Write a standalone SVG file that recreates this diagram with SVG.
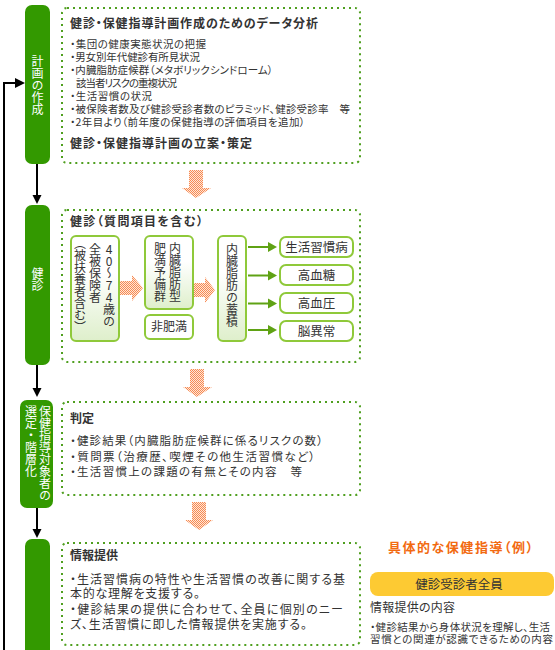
<svg xmlns="http://www.w3.org/2000/svg" width="555" height="650" viewBox="0 0 555 650">
<defs>
<style>
text { font-family: "Noto Sans CJK JP", "Noto Sans", sans-serif; fill: #333; }
.p { font-feature-settings: "palt"; }
.t { font-size: 12px; font-weight: bold; font-feature-settings: "palt"; }
.b1 { font-size: 10.5px; font-feature-settings: "palt"; }
.b3 { font-size: 11.5px; font-feature-settings: "palt"; }
.b4 { font-size: 12px; font-feature-settings: "palt"; }
.bar { fill: #339900; }
.bt { fill: #fff; font-size: 12px; writing-mode: vertical-rl; text-orientation: upright; }
.dot { fill: #fff; stroke: #4f9f1f; stroke-width: 2; stroke-dasharray: 2 4; }
.ib { stroke: #8fc93a; stroke-width: 2; }
.vt { font-size: 12px; writing-mode: vertical-rl; text-orientation: upright; }
.half { font-feature-settings: "vhal"; }
.ctr { text-anchor: middle; }
.blk { stroke: #000; stroke-width: 2; fill: none; }
.ah { fill: #000; }
.ga { stroke: #5fa214; stroke-width: 2; }
.gah { fill: #5fa214; }
.oa { fill: url(#chk); }
</style>
<pattern id="chk" width="2" height="2" patternUnits="userSpaceOnUse">
<rect width="2" height="2" fill="#fee6d8"/>
<rect width="1" height="1" fill="#f78a52"/>
<rect x="1" y="1" width="1" height="1" fill="#f78a52"/>
</pattern>
<linearGradient id="gg" x1="0" y1="0" x2="0" y2="1">
<stop offset="0.35" stop-color="#ffffff"/>
<stop offset="1" stop-color="#deefcb"/>
</linearGradient>
</defs>

<rect width="555" height="650" fill="#fff"/>

<!-- connectors -->
<g id="connectors">
<path class="blk" d="M37 164 V196"/>
<polygon class="ah" points="32.5,195 41.5,195 37,204"/>
<path class="blk" d="M37 365 V389"/>
<polygon class="ah" points="32.5,388 41.5,388 37,397"/>
<path class="blk" d="M37 508 V530"/>
<polygon class="ah" points="32.5,529 41.5,529 37,538"/>
<path class="blk" d="M4 650 V83 H16"/>
<polygon class="ah" points="15,78 15,88 25,83"/>
<polygon class="oa" points="189,170 203,170 203,188 211,188 196,198 182,188 189,188"/>
<polygon class="oa" points="190,369 204,369 204,387 212,387 197,397 183,387 190,387"/>
<polygon class="oa" points="192,502 206,502 206,520 213,520 199,530 185,520 192,520"/>
</g>

<!-- left bars -->
<g id="bar-plan">
<rect class="bar" x="25" y="5" width="25" height="159" rx="7"/>
<text class="bt" x="37.5" y="55">計画の作成</text>
</g>
<g id="bar-kenshin">
<rect class="bar" x="25" y="205" width="25" height="160" rx="7"/>
<text class="bt" x="37.5" y="267">健診</text>
</g>
<g id="bar-select">
<rect class="bar" x="20" y="400" width="33" height="108" rx="7"/>
<text class="bt" x="45" y="405">保健指導対象者の</text>
<text class="bt" x="31" y="405">選定・階層化</text>
</g>
<g id="bar-info">
<rect class="bar" x="25" y="539" width="25" height="130" rx="7"/>
</g>

<!-- box 1 -->
<g id="box-analysis">
<rect class="dot" x="62" y="8" width="298" height="155" rx="5"/>
<text class="t" x="70" y="28" textLength="248">健診・保健指導計画作成のためのデータ分析</text>
<text class="b1" x="70" y="48" textLength="136">・集団の健康実態状況の把握</text>
<text class="b1" x="70" y="61" textLength="130">・男女別年代健診有所見状況</text>
<text class="b1" x="70" y="74" textLength="203">・内臓脂肪症候群（メタボリックシンドローム）</text>
<text class="b1" x="76" y="87" textLength="101">該当者リスクの重複状況</text>
<text class="b1" x="70" y="100" textLength="82">・生活習慣の状況</text>
<text class="b1" x="70" y="113" textLength="280">・被保険者数及び健診受診者数のピラミッド、健診受診率　等</text>
<text class="b1" x="70" y="126" textLength="235">・2年目より（前年度の保健指導の評価項目を追加）</text>
<text class="t" x="70" y="148" textLength="182">健診・保健指導計画の立案・策定</text>
</g>

<!-- box 2 -->
<g id="box-kenshin">
<rect class="dot" x="62" y="210" width="298" height="152" rx="5"/>
<text class="t" x="70" y="226" textLength="133">健診（質問項目を含む）</text>
</g>
<g id="node-target">
<rect class="ib" x="71" y="236" width="48" height="105" rx="5" fill="url(#gg)"/>
<text class="vt" x="109" y="243">40～74歳の</text>
<text class="vt" x="95" y="243">全被保険者</text>
<text class="vt half" x="80" y="243">（被扶養者含む）</text>
</g>
<g id="connector-arrows-inner">
<polygon class="oa" points="120,281 132,281 132,275 143,288 132,301 132,295 120,295"/>
<polygon class="oa" points="193,283 205,283 205,277 215,290 205,303 205,297 193,297"/>
</g>
<g id="node-yobigun">
<rect class="ib" x="145" y="236" width="48" height="73" rx="5" fill="url(#gg)"/>
<text class="vt" x="175" y="242">内臓脂肪型</text>
<text class="vt" x="160" y="242">肥満予備群</text>
</g>
<g id="node-hihiman">
<rect class="ib" x="145" y="315" width="48" height="24" rx="5" fill="#fff"/>
<text class="ctr" x="169" y="331" font-size="12">非肥満</text>
</g>
<g id="node-chikuseki">
<rect class="ib" x="218" y="236" width="28" height="105" rx="5" fill="url(#gg)"/>
<text class="vt" x="232" y="243">内臓脂肪の蓄積</text>
</g>
<g id="connector-green">
<line class="ga" x1="248" y1="247" x2="269" y2="247"/>
<polygon class="gah" points="268,242 268,252 277,247"/>
<line class="ga" x1="248" y1="275.5" x2="269" y2="275.5"/>
<polygon class="gah" points="268,270.5 268,280.5 277,275.5"/>
<line class="ga" x1="248" y1="303.5" x2="269" y2="303.5"/>
<polygon class="gah" points="268,298.5 268,308.5 277,303.5"/>
<line class="ga" x1="248" y1="330" x2="269" y2="330"/>
<polygon class="gah" points="268,325 268,335 277,330"/>
</g>
<g id="node-r1">
<rect class="ib" x="280" y="237" width="73" height="20" rx="6" fill="#fff"/>
<text class="ctr" x="316.5" y="251.5" font-size="12.5">生活習慣病</text>
</g>
<g id="node-r2">
<rect class="ib" x="280" y="265" width="73" height="20" rx="6" fill="#fff"/>
<text class="ctr" x="316.5" y="279.5" font-size="12.5">高血糖</text>
</g>
<g id="node-r3">
<rect class="ib" x="280" y="293" width="73" height="20" rx="6" fill="#fff"/>
<text class="ctr" x="316.5" y="307.5" font-size="12.5">高血圧</text>
</g>
<g id="node-r4">
<rect class="ib" x="280" y="321" width="73" height="20" rx="6" fill="#fff"/>
<text class="ctr" x="316.5" y="335.5" font-size="12.5">脳異常</text>
</g>

<!-- box 3 -->
<g id="box-hantei">
<rect class="dot" x="62" y="402" width="298" height="93" rx="5"/>
<text class="t" x="70" y="422.5">判定</text>
<text class="b3" x="70" y="445" textLength="253">・健診結果（内臓脂肪症候群に係るリスクの数）</text>
<text class="b3" x="70" y="461" textLength="245">・質問票（治療歴、喫煙その他生活習慣など）</text>
<text class="b3" x="70" y="476" textLength="232">・生活習慣上の課題の有無とその内容　等</text>
</g>

<!-- box 4 -->
<g id="box-info">
<rect class="dot" x="62" y="543" width="298" height="102" rx="5"/>
<text class="t" x="70" y="559.5">情報提供</text>
<text class="b4" x="70" y="583.5" textLength="275">・生活習慣病の特性や生活習慣の改善に関する基</text>
<text class="b4" x="70" y="598" textLength="130">本的な理解を支援する。</text>
<text class="b4" x="70" y="613.5" textLength="273">・健診結果の提供に合わせて、全員に個別のニー</text>
<text class="b4" x="70" y="628.5" textLength="237">ズ、生活習慣に即した情報提供を実施する。</text>
</g>

<!-- right side -->
<g id="example">
<text class="p" x="388" y="552" font-size="13" font-weight="bold" style="fill:#f26a10" textLength="145">具体的な保健指導（例）</text>
</g>
<g id="node-all">
<rect x="370" y="572" width="184" height="24" rx="8" fill="#fdca33"/>
<text class="ctr" x="459" y="589" font-size="12.5">健診受診者全員</text>
</g>
<g id="info-content">
<text class="p" x="370" y="611.5" font-size="12" textLength="85">情報提供の内容</text>
<text class="p" x="370" y="631" font-size="10.5" textLength="180">・健診結果から身体状況を理解し、生活</text>
<text class="p" x="370" y="643" font-size="10.5" textLength="183">習慣との関連が認識できるための内容</text>
</g>
</svg>
